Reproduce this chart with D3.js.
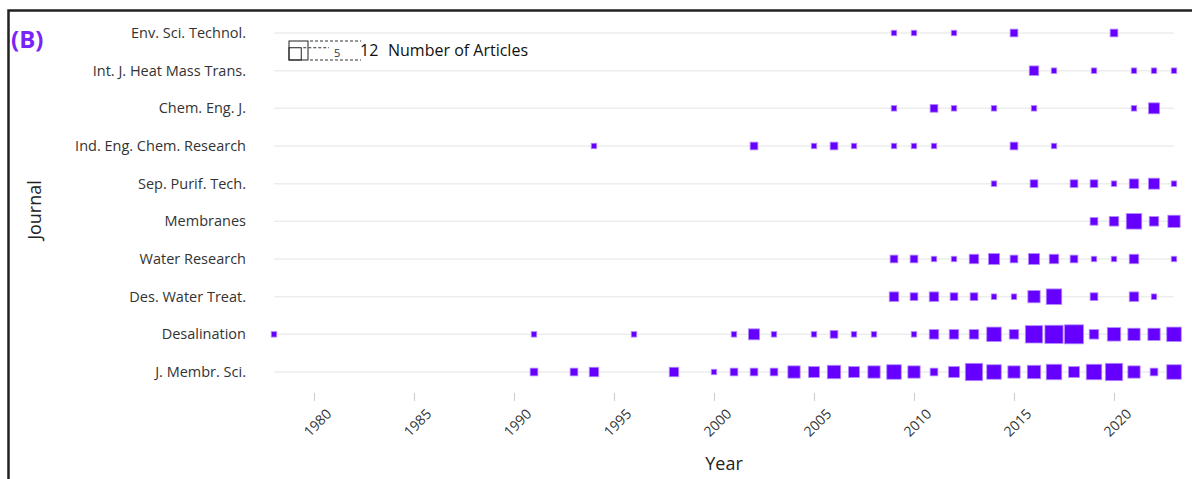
<!DOCTYPE html>
<html>
<head>
<meta charset="utf-8">
<script src="https://cdn.jsdelivr.net/npm/d3@7"></script>
<style>
  body { margin: 0; background: #fff; }
  text { font-family: "Open Sans", "Noto Sans", sans-serif; }
</style>
</head>
<body>
<div id="chart-area"></div>
<script>

// journals, top to bottom
const journals = [
    "Env. Sci. Technol.",
    "Int. J. Heat Mass Trans.",
    "Chem. Eng. J.",
    "Ind. Eng. Chem. Research",
    "Sep. Purif. Tech.",
    "Membranes",
    "Water Research",
    "Des. Water Treat.",
    "Desalination",
    "J. Membr. Sci."
]

// [year, number of articles] per journal
const envSci = [[2009,1],[2010,1],[2012,1],[2015,2],[2020,2]]
const heatMass = [[2016,3],[2017,1],[2019,1],[2021,1],[2022,1],[2023,1]]
const chemEng = [[2009,1],[2011,2],[2012,1],[2014,1],[2016,1],[2021,1],[2022,4]]
const indEng = [[1994,1],[2002,2],[2005,1],[2006,2],[2007,1],[2009,1],[2010,1],[2011,1],[2015,2],[2017,1]]
const sepPurif = [[2014,1],[2016,2],[2018,2],[2019,2],[2020,1],[2021,3],[2022,4],[2023,1]]
const membranes = [[2019,2],[2020,3],[2021,8],[2022,3],[2023,5]]
const waterRes = [[2009,2],[2010,2],[2011,1],[2012,1],[2013,3],[2014,4],[2015,2],[2016,4],[2017,3],[2018,2],[2019,1],[2020,1],[2021,3],[2023,1]]
const desWater = [[2009,3],[2010,2],[2011,3],[2012,2],[2013,2],[2014,1],[2015,1],[2016,5],[2017,8],[2019,2],[2021,3],[2022,1]]
const desalination = [[1978,1],[1991,1],[1996,1],[2001,1],[2002,4],[2003,1],[2005,1],[2006,2],[2007,1],[2008,1],
    [2010,1],[2011,3],[2012,3],[2013,3],[2014,7],[2015,3],[2016,10],[2017,11],[2018,12],[2019,3],[2020,6],[2021,5],[2022,5],[2023,7]]
const jMembrSci = [[1991,2],[1993,2],[1994,3],[1998,3],[2000,1],[2001,2],[2002,2],[2003,2],[2004,5],[2005,4],[2006,6],
    [2007,4],[2008,5],[2009,7],[2010,5],[2011,2],[2012,4],[2013,10],[2014,7],[2015,5],[2016,6],[2017,8],[2018,4],
    [2019,8],[2020,10],[2021,5],[2022,2],[2023,7]]

const seriesList = [envSci, heatMass, chemEng, indEng, sepPurif, membranes, waterRes, desWater, desalination, jMembrSci]

const yearTicks = [1980, 1985, 1990, 1995, 2000, 2005, 2010, 2015, 2020]
const legendValues = [12, 5]

const COLOR = "#6500ff"

const totalWidth = 1192
const totalHeight = 479

const svg = d3.select("#chart-area")
    .append("svg")
    .attr("width", totalWidth)
    .attr("height", totalHeight)

// frame (only top and left edges visible)
svg.append("path")
    .attr("d", `M8.5,${totalHeight + 5} L8.5,10.5 L${totalWidth + 5},10.5`)
    .attr("fill", "none")
    .attr("stroke", "#222")
    .attr("stroke-width", 2.5)

svg.append("text")
    .attr("x", 11)
    .attr("y", 48)
    .attr("font-size", "24px")
    .attr("font-weight", "bold")
    .attr("fill", "#7a25f7")
    .text("(B)")

const xScale = d3.scaleLinear()
    .domain([1978, 2023])
    .range([274, 1174])

const yScale = d3.scalePoint()
    .domain(journals)
    .range([33, 372])

const sizeScale = d3.scaleSqrt()
    .domain([0, 12])
    .range([0, 19])

// grid lines
svg.append("g")
    .selectAll("line")
    .data(journals)
    .enter().append("line")
    .attr("x1", xScale(1978))
    .attr("x2", xScale(2023))
    .attr("y1", d => yScale(d))
    .attr("y2", d => yScale(d))
    .attr("stroke", "#ededed")
    .attr("stroke-width", 1.5)

// y labels
const yAxisCall = d3.axisLeft(yScale).tickSize(0).tickPadding(0)
const yAxis = svg.append("g")
    .attr("transform", "translate(246, 0)")
    .call(yAxisCall)
yAxis.select(".domain").remove()
yAxis.selectAll("text")
    .attr("font-size", "14.5px")
    .attr("fill", "#333")
    .attr("font-family", "Open Sans, sans-serif")

// x axis
const xAxisCall = d3.axisBottom(xScale).tickValues(yearTicks).tickFormat(d3.format("d")).tickSize(8).tickPadding(4)
const xAxis = svg.append("g")
    .attr("transform", "translate(0, 393)")
    .call(xAxisCall)
xAxis.select(".domain").remove()
xAxis.selectAll(".tick line").attr("stroke", "#ccc")
xAxis.selectAll("text")
    .attr("font-size", "14px")
    .attr("fill", "#333")
    .attr("font-family", "Open Sans, sans-serif")
    .attr("text-anchor", "end")
    .attr("dy", "0.35em")
    .attr("transform", "translate(6, 10) rotate(-45)")

svg.append("text")
    .attr("x", 724)
    .attr("y", 470)
    .attr("font-size", "18px")
    .attr("fill", "#222")
    .attr("text-anchor", "middle")
    .text("Year")

svg.append("text")
    .attr("x", -210)
    .attr("y", 41)
    .attr("font-size", "18px")
    .attr("fill", "#222")
    .attr("text-anchor", "middle")
    .attr("transform", "rotate(-90)")
    .text("Journal")

// squares
const marks = svg.append("g")
seriesList.forEach((series, i) => {
    marks.selectAll(`.sq${i}`)
        .data(series)
        .enter().append("rect")
        .attr("class", `sq${i}`)
        .attr("x", d => xScale(d[0]) - sizeScale(d[1]) / 2)
        .attr("y", d => yScale(journals[i]) - sizeScale(d[1]) / 2)
        .attr("width", d => sizeScale(d[1]))
        .attr("height", d => sizeScale(d[1]))
        .attr("fill", COLOR)
        .attr("stroke", "#b48bff")
        .attr("stroke-width", 0.8)
})

// size legend
const legend = svg.append("g").attr("transform", "translate(289, 60)")
const bigS = sizeScale(legendValues[0])
const smallS = sizeScale(legendValues[1])

legend.append("rect")
    .attr("x", 0).attr("y", -bigS)
    .attr("width", bigS).attr("height", bigS)
    .attr("fill", "none").attr("stroke", "#222").attr("stroke-width", 1)
legend.append("rect")
    .attr("x", 0).attr("y", -smallS)
    .attr("width", smallS).attr("height", smallS)
    .attr("fill", "none").attr("stroke", "#222").attr("stroke-width", 1)

legend.append("line")
    .attr("x1", bigS + 2).attr("x2", 72)
    .attr("y1", -bigS).attr("y2", -bigS)
    .attr("stroke", "#333").attr("stroke-dasharray", "3,2")
legend.append("line")
    .attr("x1", smallS + 2).attr("x2", 40)
    .attr("y1", -smallS).attr("y2", -smallS)
    .attr("stroke", "#333").attr("stroke-dasharray", "3,2")
legend.append("line")
    .attr("x1", bigS + 2).attr("x2", 72)
    .attr("y1", 0).attr("y2", 0)
    .attr("stroke", "#333").attr("stroke-dasharray", "3,2")

legend.append("text")
    .attr("x", 45).attr("y", -3)
    .attr("font-size", "11px")
    .attr("fill", "#333")
    .text(legendValues[1])
legend.append("text")
    .attr("x", 71).attr("y", -4)
    .attr("font-size", "16px")
    .attr("fill", "#111")
    .text(legendValues[0])
legend.append("text")
    .attr("x", 99).attr("y", -4)
    .attr("font-size", "16px")
    .attr("fill", "#111")
    .text("Number of Articles")

</script>
</body>
</html>
